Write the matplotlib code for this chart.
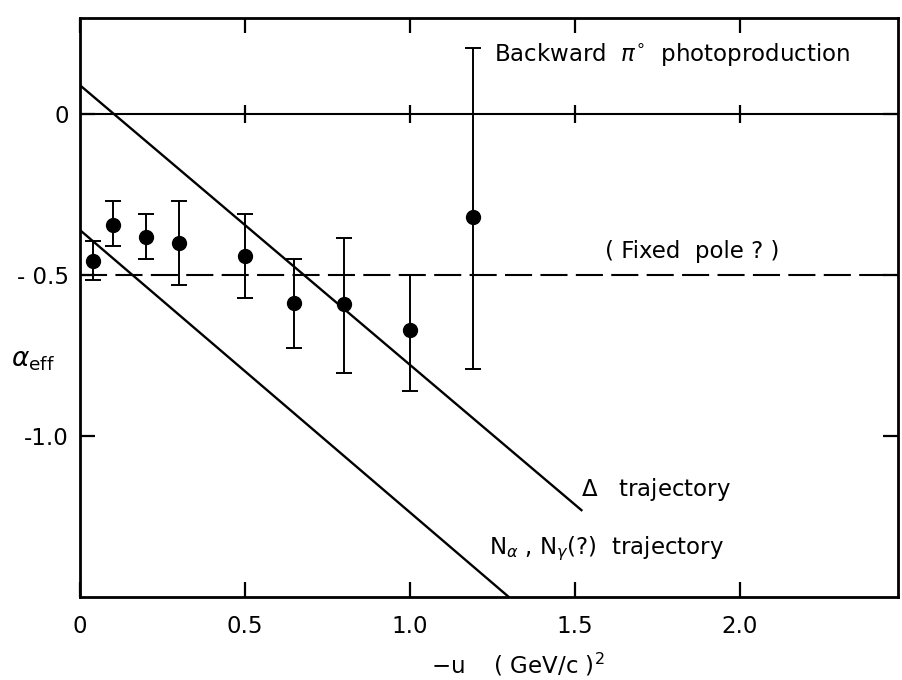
import numpy as np
import matplotlib.pyplot as plt

# measured points: -u, alpha_eff, lower error, upper error
u_vals = [0.04, 0.10, 0.20, 0.30, 0.50, 0.65, 0.80, 1.00, 1.19]
alpha_vals = [-0.455, -0.345, -0.38, -0.40, -0.44, -0.585, -0.59, -0.67, -0.32]
err_low = [0.06, 0.065, 0.07, 0.13, 0.13, 0.14, 0.215, 0.19, 0.47]
err_high = [0.06, 0.075, 0.07, 0.13, 0.13, 0.135, 0.205, 0.17, 0.525]

# trajectories (endpoints)
delta_u = [0.0, 1.52]
delta_alpha = [0.09, -1.23]
nuc_u = [0.0, 1.30]
nuc_alpha = [-0.36, -1.50]

fixed_pole = -0.5
x_ticks = [0, 0.5, 1.0, 1.5, 2.0]
x_labels = ['0', '0.5', '1.0', '1.5', '2.0']
y_ticks = [0, -0.5, -1.0]
y_labels = ['0', '- 0.5', '-1.0']

plt.rcParams['font.family'] = ['DejaVu Sans']

fig = plt.figure(figsize=(9.02, 6.8), dpi=100)
ax = fig.add_axes([0.0887, 0.122, 0.907, 0.852])

ax.set_xlim(0, 2.48)
ax.set_ylim(-1.5, 0.3)

ax.axhline(0, color='black', lw=1.5)
ax.axhline(fixed_pole, color='black', lw=1.5, dashes=(13, 4))
# small crossing marks on the zero line
ax.plot(x_ticks[1:], [0] * 4, ls='none', marker='|', ms=13, mew=1.6, color='black')

ax.plot(delta_u, delta_alpha, color='black', lw=1.7)
ax.plot(nuc_u, nuc_alpha, color='black', lw=1.7)

ax.errorbar(u_vals, alpha_vals, yerr=[err_low, err_high], fmt='o', color='black',
            ms=10, elinewidth=1.4, capsize=6, capthick=1.4)

for s in ax.spines.values():
    s.set_linewidth(2.0)

ax.set_xticks(x_ticks)
ax.set_xticklabels(x_labels)
ax.set_yticks(y_ticks)
ax.set_yticklabels(y_labels)
ax.tick_params(axis='x', direction='in', length=11, width=1.6, top=True,
               labelsize=16.5, pad=13)
ax.tick_params(axis='y', direction='in', length=11, width=1.6, right=True,
               labelsize=16.5, pad=8)

ax.text(1.255, 0.185, r'Backward  $\pi^{\circ}$  photoproduction', fontsize=16.5, va='center')
ax.text(1.59, -0.425, '( Fixed  pole ? )', fontsize=16.5, va='center')
ax.text(1.52, -1.167, r'$\Delta$   trajectory', fontsize=16.5, va='center')
ax.text(1.24, -1.35, r'N$_\alpha$ , N$_\gamma$(?)  trajectory', fontsize=16.5, va='center')

fig.text(0.012, 0.47, r'$\alpha_{\rm eff}$', fontsize=19, va='center')
fig.text(0.478, 0.022, r'$-$u    ( GeV/c )$^2$', fontsize=16.5, ha='left', va='center')

fig.savefig('out.png', dpi=100)
